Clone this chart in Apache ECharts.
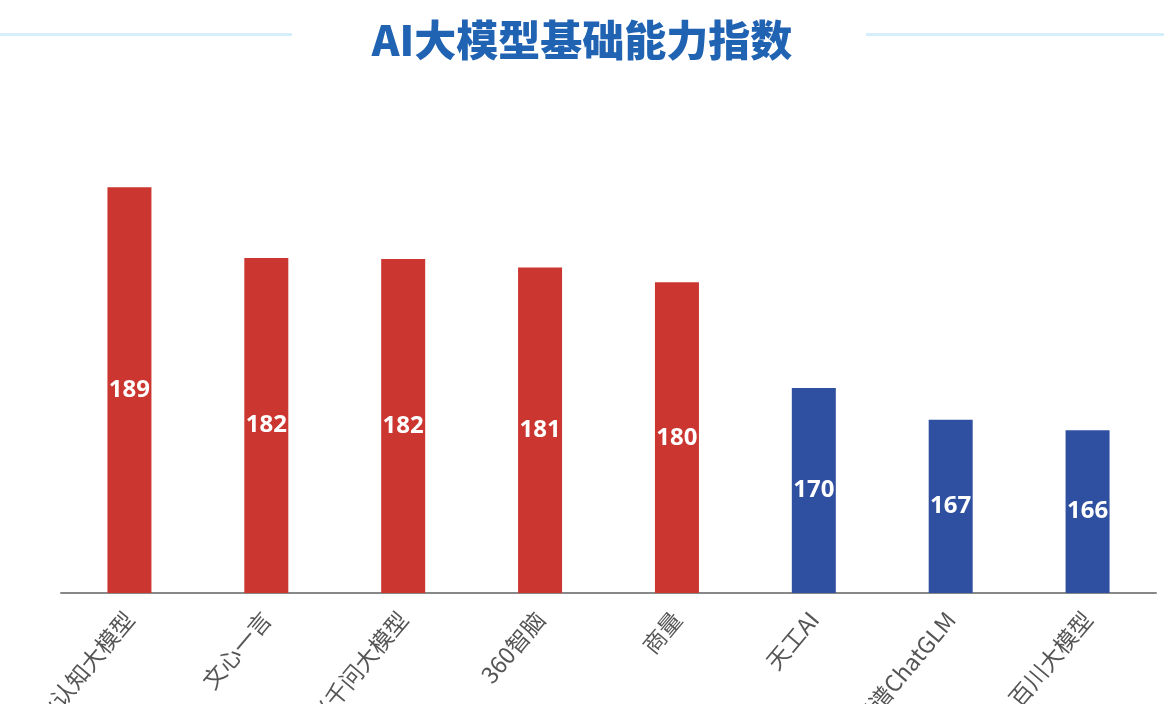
<!DOCTYPE html>
<html>
<head>
<meta charset="utf-8">
<script src="https://cdn.jsdelivr.net/npm/echarts@6/dist/echarts.min.js"></script>
<style>
html,body{margin:0;padding:0;background:#fff;}
#main{width:1164px;height:704px;}
</style>
</head>
<body>
<div id="main"></div>
<script>
const titleText = 'AI大模型基础能力指数';
const categories = ['讯飞星火认知大模型', '文心一言', '通义千问大模型', '360智脑', '商量', '天工AI', '智谱ChatGLM', '百川大模型'];
const values = [189, 182.3, 182.2, 181.4, 180, 170, 167, 166];
const barColors = ['#CB3631', '#CB3631', '#CB3631', '#CB3631', '#CB3631', '#2F4FA0', '#2F4FA0', '#2F4FA0'];

const chart = echarts.init(document.getElementById('main'));
chart.setOption({
  backgroundColor: '#ffffff',
  animation: false,
  title: {
    text: titleText,
    left: 'center',
    top: 14,
    textStyle: {
      color: '#2163B3',
      fontSize: 42,
      fontWeight: 900,
      fontFamily: 'Noto Sans CJK SC'
    }
  },
  graphic: [
    { type: 'rect', left: 0, top: 33, shape: { width: 292, height: 3 }, style: { fill: '#D4EEFB' } },
    { type: 'rect', left: 866, top: 33, shape: { width: 298, height: 3 }, style: { fill: '#D4EEFB' } }
  ],
  grid: { left: 61, right: 8, top: 71, bottom: 111, containLabel: false, outerBoundsMode: 'none' },
  xAxis: {
    type: 'category',
    data: categories,
    axisLine: { lineStyle: { color: '#888888', width: 2 } },
    axisTick: { show: false },
    axisLabel: {
      rotate: 50,
      interval: 0,
      margin: 22,
      color: '#555555',
      fontSize: 23,
      fontFamily: 'Noto Sans CJK SC'
    }
  },
  yAxis: {
    type: 'value',
    min: 150.6,
    max: 200,
    show: false,
    splitLine: { show: false }
  },
  series: [{
    type: 'bar',
    barWidth: 44,
    data: values.map((v, i) => ({ value: v, itemStyle: { color: barColors[i] } })),
    label: {
      show: true,
      position: 'inside',
      color: '#ffffff',
      fontSize: 24,
      fontWeight: 'bold',
      fontFamily: 'Noto Sans',
      formatter: p => Math.round(p.value)
    }
  }]
});
</script>
</body>
</html>
